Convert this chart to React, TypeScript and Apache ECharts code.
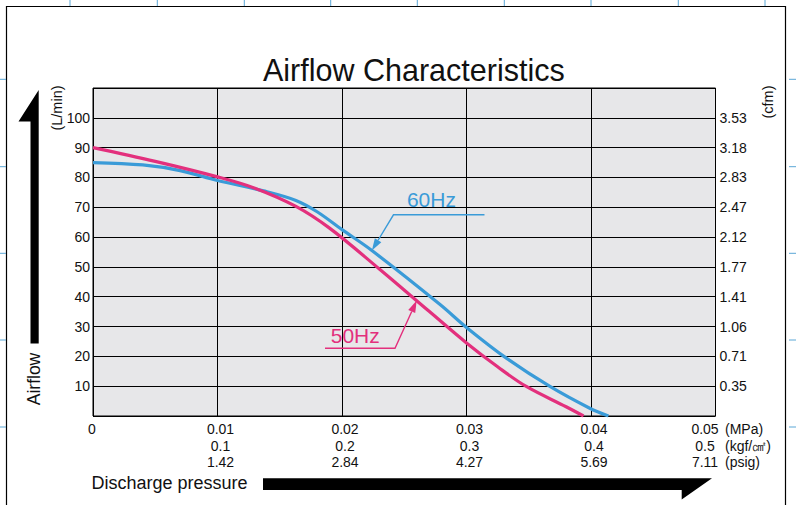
import { useEffect, useRef } from 'react';
import * as echarts from 'echarts';

// 50 Hz curve: discharge pressure (MPa) -> airflow (L/min)
const pressure50 = [0, 0.005, 0.01, 0.013, 0.0163, 0.019, 0.023, 0.027, 0.03, 0.0325, 0.0348, 0.038, 0.0394];
const airflow50 = [90, 85.4, 80.2, 76.4, 70.3, 63, 49.3, 35.1, 24.5, 16.5, 9.9, 3.1, 0];

// 60 Hz curve
const pressure60 = [0, 0.004, 0.007, 0.01, 0.0137, 0.0163, 0.018, 0.02, 0.0224, 0.0279, 0.03, 0.0332, 0.0367, 0.0399, 0.0414];
const airflow60 = [85, 84.2, 82.3, 79, 75.5, 72.3, 68.5, 62.5, 55.5, 37.3, 29.7, 19.4, 9.9, 2.6, 0];

// Pressure tick labels in three unit systems
const mpaTicks = ['0', '0.01', '0.02', '0.03', '0.04', '0.05'];
const kgfTicks = ['', '0.1', '0.2', '0.3', '0.4', '0.5'];
const psigTicks = ['', '1.42', '2.84', '4.27', '5.69', '7.11'];

// Airflow tick labels: L/min (left) and cfm (right), for 10..100
const lpmTicks = ['10', '20', '30', '40', '50', '60', '70', '80', '90', '100'];
const cfmTicks = ['0.35', '0.71', '1.06', '1.41', '1.77', '2.12', '2.47', '2.83', '3.18', '3.53'];

// Curve points the callout arrows point at
const callout60 = [0.0224, 55.5];
const callout50 = [0.026, 38.7];

const FONT = '"Liberation Sans", Arial, Helvetica, sans-serif';
const PINK = '#E3307D';
const BLUE = '#3A9BD8';
const REG_BLUE = '#5AA7D6';

function arrowHead(tip: number[], from: number[], len: number, half: number) {
  const dx = tip[0] - from[0];
  const dy = tip[1] - from[1];
  const d = Math.hypot(dx, dy) || 1;
  const ux = dx / d;
  const uy = dy / d;
  const bx = tip[0] - ux * len;
  const by = tip[1] - uy * len;
  return {
    base: [bx, by],
    points: [
      [tip[0], tip[1]],
      [bx - uy * half, by + ux * half],
      [bx + uy * half, by - ux * half],
    ],
  };
}

function textEl(text: string, x: number, y: number, size: number, color: string, opts: any = {}) {
  return {
    type: 'text',
    x,
    y,
    rotation: opts.rotation || 0,
    silent: true,
    z: 100,
    style: {
      text,
      fill: color,
      fontSize: size,
      fontFamily: FONT,
      align: opts.align || 'left',
      textAlign: opts.align || 'left',
      verticalAlign: opts.verticalAlign || 'middle',
      textVerticalAlign: opts.verticalAlign || 'middle',
    },
  };
}

export default function App() {
  const ref = useRef<HTMLDivElement>(null);

  useEffect(() => {
    if (!ref.current) return;
    const chart = echarts.init(ref.current, null, { renderer: 'svg' });

    const labelStyle = { color: '#111', fontSize: 14, fontFamily: FONT };

    chart.setOption({
      animation: false,
      backgroundColor: '#fff',
      textStyle: { fontFamily: FONT },
      title: {
        text: 'Airflow Characteristics',
        left: 263,
        top: 54,
        padding: 0,
        textStyle: { fontSize: 30.5, fontWeight: 'normal', color: '#111', fontFamily: FONT },
      },
      grid: {
        left: 93,
        top: 88,
        width: 622.5,
        height: 328,
        show: true,
        backgroundColor: '#E7E7E9',
        borderColor: '#000',
        borderWidth: 1,
        containLabel: false,
        outerBoundsMode: 'none',
      },
      xAxis: {
        type: 'value',
        min: 0,
        max: 0.05,
        interval: 0.01,
        axisLine: { show: false },
        axisTick: { show: false },
        splitLine: { show: true, lineStyle: { color: '#000', width: 1 } },
        name: '(MPa)\n(kgf/㎠)\n(psig)',
        nameLocation: 'end',
        nameGap: 9.5,
        nameMoveOverlap: false,
        nameTextStyle: {
          ...labelStyle,
          align: 'left',
          verticalAlign: 'top',
          lineHeight: 16.5,
          padding: [5, 0, 0, 0],
        },
        axisLabel: {
          ...labelStyle,
          margin: 5,
          lineHeight: 16.5,
          padding: [0, 0, 0, 6],
          formatter: (v: number) => {
            const i = Math.round(v / 0.01);
            if (i === 0) return '{z|' + mpaTicks[0] + '}';
            const lines = [mpaTicks[i], kgfTicks[i], psigTicks[i]];
            if (i === mpaTicks.length - 1) return lines.map((s) => '{e|' + s + '}').join('\n');
            return lines.join('\n');
          },
          rich: {
            z: { ...labelStyle, lineHeight: 16.5, padding: [0, 8, 0, 0] },
            e: { ...labelStyle, lineHeight: 16.5, padding: [0, 27, 0, 0] },
          },
        },
      },
      yAxis: [
        {
          type: 'value',
          min: 0,
          max: 110,
          interval: 10,
          axisLine: { show: false },
          axisTick: { show: false },
          splitLine: { show: true, lineStyle: { color: '#000', width: 1 } },
          axisLabel: {
            ...labelStyle,
            margin: 3,
            formatter: (v: number) => {
              const i = Math.round(v / 10);
              return i >= 1 && i <= lpmTicks.length ? lpmTicks[i - 1] : '';
            },
          },
        },
        {
          type: 'value',
          position: 'right',
          min: 0,
          max: 110,
          interval: 10,
          axisLine: { show: false },
          axisTick: { show: false },
          splitLine: { show: false },
          axisLabel: {
            ...labelStyle,
            margin: 4,
            formatter: (v: number) => {
              const i = Math.round(v / 10);
              return i >= 1 && i <= cfmTicks.length ? cfmTicks[i - 1] : '';
            },
          },
        },
      ],
      series: [
        {
          name: '60Hz',
          type: 'line',
          data: pressure60.map((p, i) => [p, airflow60[i]]),
          showSymbol: false,
          smooth: 0.35,
          lineStyle: { color: BLUE, width: 3.2 },
          z: 3,
        },
        {
          name: '50Hz',
          type: 'line',
          data: pressure50.map((p, i) => [p, airflow50[i]]),
          showSymbol: false,
          smooth: 0.35,
          lineStyle: { color: PINK, width: 3.2 },
          z: 4,
        },
      ],
    });

    const toPx = (pt: number[]) => chart.convertToPixel({ gridIndex: 0 }, pt) as number[];

    const graphics: any[] = [];

    // page frame
    graphics.push({
      type: 'rect',
      silent: true,
      shape: { x: 6.5, y: 6.5, width: 779, height: 530 },
      style: { fill: 'none', stroke: '#000', lineWidth: 1.2 },
    });
    // registration marks
    [70, 157.3, 244.3, 330.7, 417.3, 504.3, 591, 678.3, 765].forEach((x) => {
      graphics.push({ type: 'line', silent: true, shape: { x1: x, y1: 0, x2: x, y2: 6 }, style: { stroke: REG_BLUE, lineWidth: 1 } });
    });
    [79.3, 166.7, 253.3, 340, 427].forEach((y) => {
      graphics.push({ type: 'line', silent: true, shape: { x1: 0, y1: y, x2: 6, y2: y }, style: { stroke: REG_BLUE, lineWidth: 1 } });
      graphics.push({ type: 'line', silent: true, shape: { x1: 789, y1: y, x2: 796, y2: y }, style: { stroke: REG_BLUE, lineWidth: 1 } });
    });

    // axis direction arrows
    graphics.push({
      type: 'polygon',
      silent: true,
      shape: { points: [[38.7, 90], [18.5, 121.5], [30.5, 121.5], [30.5, 343.5], [38.7, 343.5]] },
      style: { fill: '#000' },
    });
    graphics.push({
      type: 'polygon',
      silent: true,
      shape: { points: [[263, 478.3], [712, 478.3], [681.7, 499.5], [681.7, 490], [263, 490]] },
      style: { fill: '#000' },
    });

    // axis titles
    graphics.push(textEl('Airflow', 33.5, 379, 17.5, '#111', { rotation: Math.PI / 2, align: 'center' }));
    graphics.push(textEl('Discharge pressure', 91.5, 483, 18, '#111'));
    graphics.push(textEl('(L/min)', 56.5, 108, 14.5, '#111', { rotation: Math.PI / 2, align: 'center' }));
    graphics.push(textEl('(cfm)', 768, 102, 14.5, '#111', { rotation: Math.PI / 2, align: 'center' }));

    // 60Hz callout
    const tip60 = toPx(callout60);
    const elbow60 = [tip60[0] + 21.6, tip60[1] - 35.7];
    const end60 = [elbow60[0] + 91, elbow60[1]];
    const head60 = arrowHead(tip60, elbow60, 12, 3.8);
    graphics.push({
      type: 'polyline',
      silent: true,
      z: 100,
      shape: { points: [end60, elbow60, head60.base] },
      style: { stroke: BLUE, lineWidth: 1.4, fill: 'none' },
    });
    graphics.push({ type: 'polygon', silent: true, z: 100, shape: { points: head60.points }, style: { fill: BLUE } });
    graphics.push(textEl('60Hz', elbow60[0] + 13.4, elbow60[1] - 15.5, 21, BLUE));

    // 50Hz callout
    const tip50 = toPx(callout50);
    const elbow50 = [tip50[0] - 21.7, tip50[1] + 47.7];
    const start50 = [elbow50[0] - 70, elbow50[1]];
    const head50 = arrowHead(tip50, elbow50, 12, 3.8);
    graphics.push({
      type: 'polyline',
      silent: true,
      z: 100,
      shape: { points: [start50, elbow50, head50.base] },
      style: { stroke: PINK, lineWidth: 1.4, fill: 'none' },
    });
    graphics.push({ type: 'polygon', silent: true, z: 100, shape: { points: head50.points }, style: { fill: PINK } });
    graphics.push(textEl('50Hz', start50[0] + 5.7, elbow50[1] - 13, 21, PINK));

    chart.setOption({ graphic: graphics });

    return () => chart.dispose();
  }, []);

  return (
    <div
      ref={ref}
      style={{ position: 'fixed', left: 0, top: 0, width: 796, height: 505, background: '#fff' }}
    />
  );
}
